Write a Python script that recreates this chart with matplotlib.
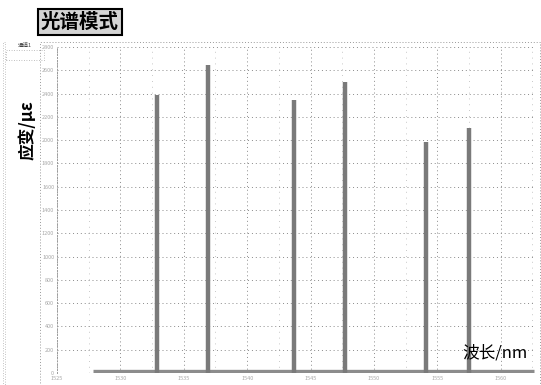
import matplotlib
matplotlib.use("Agg")
import matplotlib.pyplot as plt
from matplotlib.patches import Rectangle
import numpy as np

plt.rcParams['font.family'] = ['Noto Sans CJK SC', 'DejaVu Sans']

# ---- data ----
peak_wavelength = [1532.9, 1536.9, 1543.7, 1547.7, 1554.1, 1557.5]
peak_strain = [2390, 2645, 2345, 2500, 1985, 2105]
baseline_wavelength = [1527.8, 1562.6]
baseline_strain = [20, 20]
x_ticks = [1525, 1530, 1535, 1540, 1545, 1550, 1555, 1560]
y_ticks = list(range(0, 2801, 200))
title_text = "光谱模式"
x_label = "波长/nm"
y_label = "应变/με"
channel_text = "通道1"

W, H = 541, 385
fig = plt.figure(figsize=(W / 100, H / 100), dpi=100)
fig.patch.set_facecolor('white')

ax_l, ax_r, ax_t, ax_b = 57, 535, 47, 373
ax = fig.add_axes([ax_l / W, 1 - ax_b / H, (ax_r - ax_l) / W, (ax_b - ax_t) / H])

ax.set_xlim(1525, 1562.7)
ax.set_ylim(0, 2800)
ax.set_xticks(x_ticks)
ax.set_xticks(np.arange(1525, 1562.7, 2.5), minor=True)
ax.set_yticks(y_ticks)
ax.tick_params(axis='both', which='both', length=0, labelsize=4, labelcolor='#a8a8a8', pad=2)
ax.grid(True, which='major', linestyle=(0, (1, 3)), color='#8a8a8a', linewidth=0.7)
ax.grid(True, which='minor', axis='x', linestyle=(0, (1, 6)), color='#b5b5b5', linewidth=0.6)
for s in ax.spines.values():
    s.set_visible(False)
ax.spines['left'].set_visible(True)
ax.spines['left'].set_linestyle((0, (1, 2)))
ax.spines['left'].set_color('#9a9a9a')
ax.spines['left'].set_linewidth(0.7)

# baseline
ax.plot(baseline_wavelength, baseline_strain, color='#8c8c8c', linewidth=2.4, solid_capstyle='butt', zorder=3)
# peaks
ax.vlines(peak_wavelength, 0, peak_strain, colors='#7a7a7a', linewidth=3.2, zorder=4)

ax.text(0.985, 0.035, x_label, transform=ax.transAxes, ha='right', va='bottom',
        fontsize=12, color='black', zorder=5)

# outer dotted panel
fig.patches.append(Rectangle((40 / W, 0), (540 - 40) / W, 1 - 42 / H, transform=fig.transFigure,
                             fill=False, edgecolor='#9a9a9a', linestyle=(0, (1, 2)), linewidth=0.7))
fig.patches.append(Rectangle((3 / W, 0), 2 / W, 1 - 42 / H, transform=fig.transFigure,
                             fill=False, edgecolor='#b0b0b0', linestyle=(0, (1, 2)), linewidth=0.6))

# title box
fig.text(41 / W, 1 - 22 / H, title_text, fontsize=14, fontweight='bold', ha='left', va='center',
         bbox=dict(boxstyle='square,pad=0.15', facecolor='#d4d4d4', edgecolor='black', linewidth=1.5))

# small channel label
fig.text(18 / W, 1 - 45 / H, channel_text, fontsize=4, ha='left', va='center', color='#444444')
fig.patches.append(Rectangle((6 / W, 1 - 60 / H), 38 / W, 10 / H, transform=fig.transFigure,
                             fill=False, edgecolor='#aaaaaa', linestyle=(0, (1, 2)), linewidth=0.6))

# y label
fig.text(28 / W, 1 - 130 / H, y_label, fontsize=12, fontweight='bold', rotation=90, ha='center', va='center')

fig.savefig('out.png', dpi=100)
